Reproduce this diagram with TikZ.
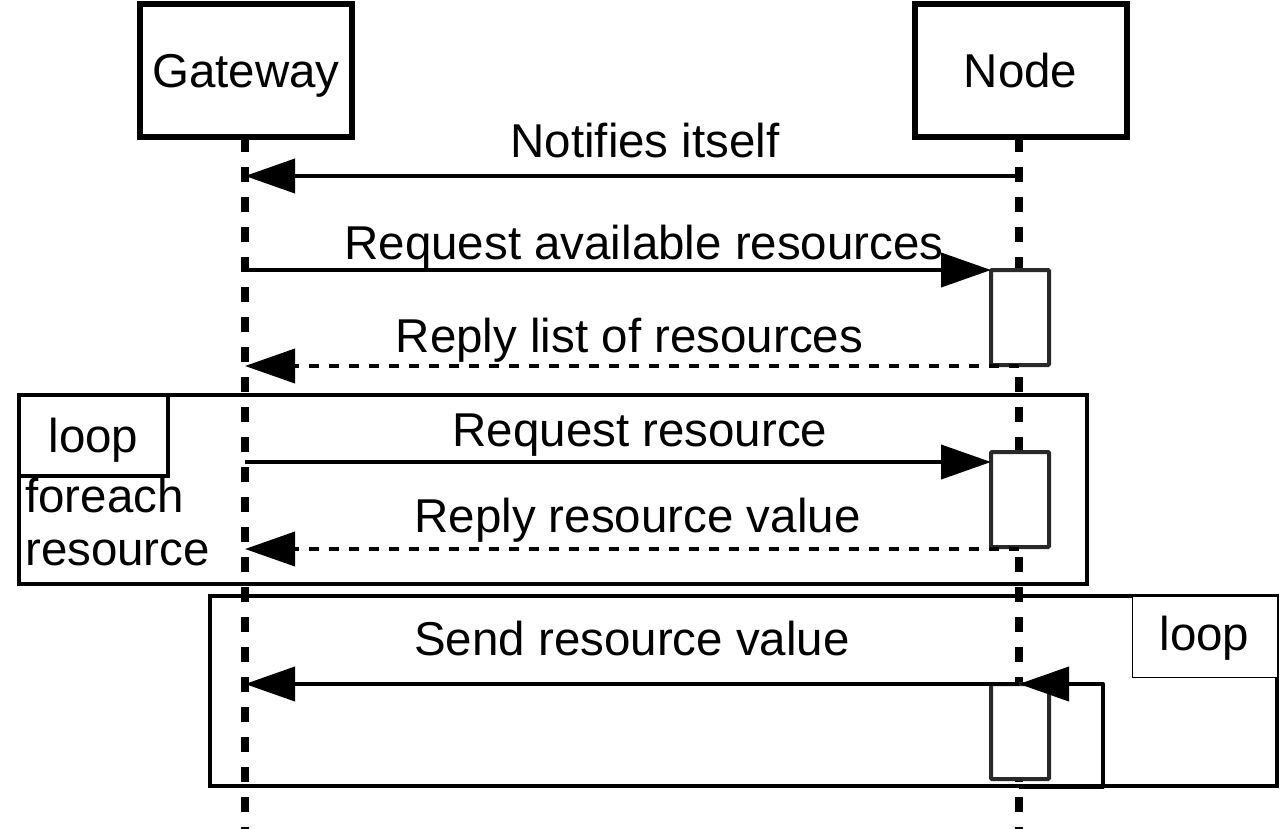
\documentclass[tikz,border=0pt]{standalone}
\usepackage{fontspec}
\setmainfont{Liberation Sans}
\usetikzlibrary{arrows.meta}
\tikzset{
  big/.style={font=\fontsize{47.5pt}{54pt}\selectfont},
  actor/.style={big, draw=black, line width=6pt, fill=white, minimum width=212pt, minimum height=133pt,
    inner sep=0pt, outer sep=0pt, text height=35pt, text depth=0pt},
  lifeline/.style={line width=7.5pt, dash pattern=on 15pt off 15pt},
  frame/.style={draw=black, line width=4.5pt},
  actbox/.style={draw=black!84, line width=4pt, fill=white, minimum width=58pt, minimum height=95pt,
    inner sep=0pt, outer sep=0pt, rounded corners=1pt},
  msg/.style={line width=4pt, -{Triangle[length=50pt,width=34pt]}},
  reply/.style={msg, dash pattern=on 10pt off 10pt},
  lbl/.style={big, anchor=base, inner sep=0pt},
  looplbl/.style={big, draw=black, fill=white, inner sep=0pt, outer sep=0pt, anchor=north west,
    text depth=0pt},
}
\begin{document}
\begin{tikzpicture}[x=1pt,y=-1pt]
\useasboundingbox (0,0) rectangle (1280,829);
% actors
\node[actor] (gw) at (246,70.5) {Gateway};
\node[actor] (nd) at (1020.5,70.5) {Node};
\coordinate (gwend) at (245,829);
\coordinate (ndend) at (1019,829);
\draw[lifeline] (gw.south -| gwend) -- (gwend);
\draw[lifeline] (nd.south -| ndend) -- (ndend);
% loop frames
\draw[frame] (19,395) rectangle (1087,584);
\node[looplbl, line width=4.5pt, minimum width=149pt, minimum height=81pt, text height=33pt] (loop1) at (19,395) {loop};
\node[lbl, anchor=base west] (fe1) at (25,512) {foreach};
\node[lbl, anchor=base west] (fe2) at (25,565) {resource};
\draw[frame] (210,596) rectangle (1277,786);
\node[looplbl, line width=1pt, minimum width=145pt, minimum height=81pt, text height=27pt] (loop2) at (1132,596) {loop};
% activation boxes
\node[actbox, anchor=north west] (act1) at (991,270) {};
\node[actbox, anchor=north west] (act2) at (991,452) {};
\node[actbox, anchor=north west] (act3) at (991,684) {};
% message coordinates
\coordinate (g1) at (245,176);
\coordinate (n1) at (1019,176);
\coordinate (g2) at (245,270);
\coordinate (g3) at (245,366);
\coordinate (n3) at (1019,366);
\coordinate (g4) at (245,462);
\coordinate (g5) at (245,549);
\coordinate (n5) at (1019,549);
\coordinate (g6) at (245,684);
\coordinate (n6) at (1019,684);
\coordinate (s0) at (1019,787);
% messages
\draw[msg] (n1) -- (g1);
\node[lbl] (l1) at (645,158) {Notifies itself};
\draw[msg] (g2) -- (act1.north west);
\node[lbl] (l2) at (644,260) {Request available resources};
\draw[reply] (n3) -- (g3);
\node[lbl] (l3) at (629.5,352) {Reply list of resources};
\draw[msg] (g4) -- (act2.north west |- g4);
\node[lbl] (l4) at (640,446) {Request resource};
\draw[reply] (n5) -- (g5);
\node[lbl] (l5) at (637.5,532) {Reply resource value};
\draw[msg] (n6) -- (g6);
\node[lbl] (l6) at (632,655) {Send resource value};
\draw[msg, line join=round] (s0) -- (1103,787) -- (1103,684) -- (n6);
\end{tikzpicture}
\end{document}
